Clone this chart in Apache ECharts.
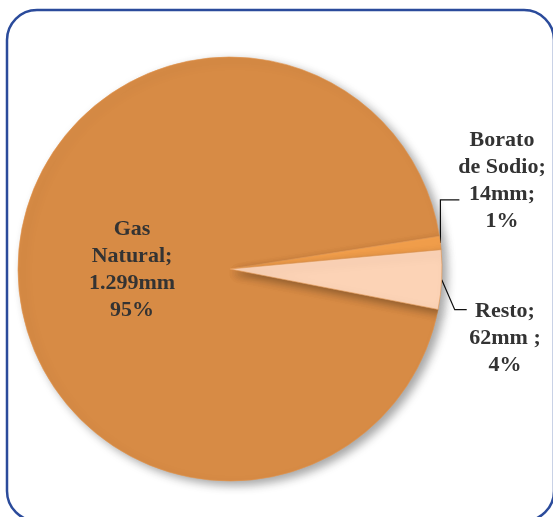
<!DOCTYPE html>
<html>
<head>
<meta charset="utf-8">
<script src="https://cdn.jsdelivr.net/npm/echarts@6/dist/echarts.min.js"></script>
<style>
html,body{margin:0;padding:0;background:#fff;}
#chart{width:553px;height:517px;}
</style>
</head>
<body>
<div id="chart"></div>
<script>
// Data
const categories = ['Gas\nNatural', 'Borato\nde Sodio', 'Resto'];
const values = [1299, 14, 62];
const valueLabels = ['1.299mm', '14mm;', '62mm ;'];
const percentLabels = ['95%', '1%', '4%'];

const colors = ['#d78b45', '#f4a04c', '#fcd3b6'];

const chart = echarts.init(document.getElementById('chart'), null, {renderer: 'canvas'});

// label placement (annotation layout, not data)
const labelPos = [
  {x: 132, y: 270},
  {x: 502, y: 181},
  {x: 505, y: 338}
];
// leader line bend offsets relative to the slice anchor: [dx1, dy1, dx2, dy2]
const leaderBend = [null, [0, -43, 19, -43], [13, 30, 25, 30]];

const data = categories.map((c, i) => ({
  name: c,
  value: values[i],
  itemStyle: {color: colors[i]},
  label: i === 0 ? {position: 'inside'} : {position: 'outside'},
  labelLine: {show: i !== 0}
}));

chart.setOption({
  animation: false,
  backgroundColor: '#ffffff',
  graphic: [{
    type: 'rect',
    shape: {x: 7, y: 10, width: 547, height: 511, r: 30},
    style: {fill: 'none', stroke: '#2b4b9b', lineWidth: 2.5},
    z: 0
  }],
  series: [{
    type: 'pie',
    center: [230, 269],
    radius: [0, 212],
    startAngle: -11,
    clockwise: true,
    avoidLabelOverlap: false,
    itemStyle: {
      borderColor: '#e3964f',
      borderWidth: 0.6,
      shadowBlur: 10,
      shadowOffsetX: 5,
      shadowOffsetY: 4,
      shadowColor: 'rgba(0,0,0,0.35)'
    },
    label: {
      show: true,
      fontFamily: 'Liberation Serif',
      fontWeight: 'bold',
      fontSize: 22,
      lineHeight: 27,
      color: '#333333',
      align: 'center',
      formatter: (p) => p.name + ';\n' + valueLabels[p.dataIndex] + '\n' + percentLabels[p.dataIndex]
    },
    labelLine: {
      show: true,
      length: 10,
      length2: 15,
      lineStyle: {color: '#111111', width: 1.2}
    },
    labelLayout: (params) => {
      const i = params.dataIndex;
      const p = labelPos[i];
      const out = {x: p.x, y: p.y, align: 'center', verticalAlign: 'middle'};
      const b = leaderBend[i];
      if (b && params.labelLinePoints && params.labelLinePoints.length) {
        const a = params.labelLinePoints[0];
        out.labelLinePoints = [
          [a[0], a[1]],
          [a[0] + b[0], a[1] + b[1]],
          [a[0] + b[2], a[1] + b[3]]
        ];
      }
      return out;
    },
    data: data
  }]
});
</script>
</body>
</html>
